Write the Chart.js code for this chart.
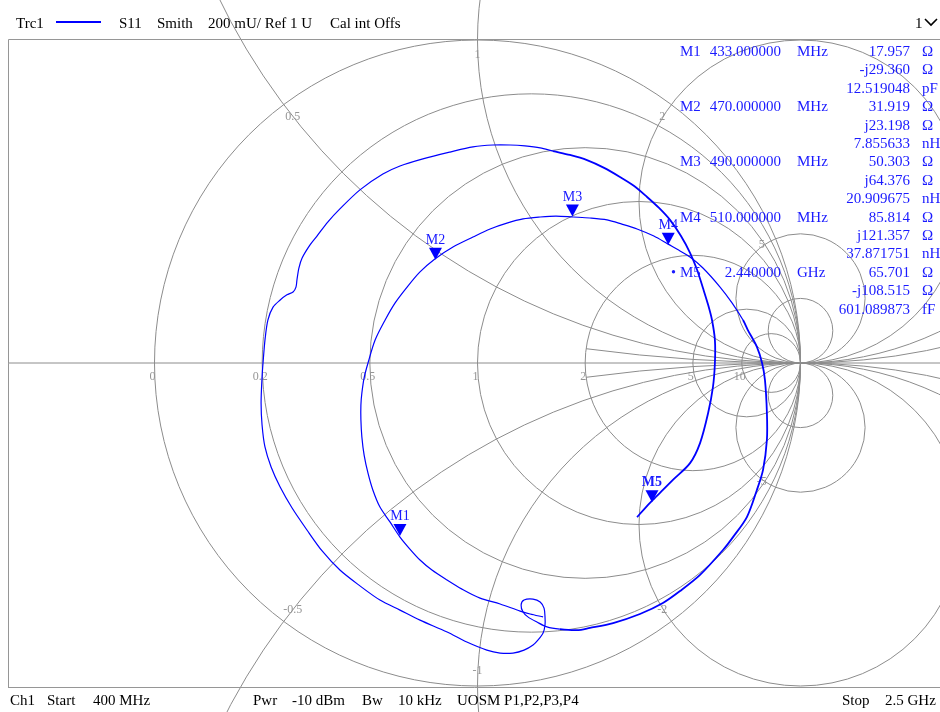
<!DOCTYPE html>
<html>
<head>
<meta charset="utf-8">
<script src="https://cdn.jsdelivr.net/npm/chart.js@4/dist/chart.umd.min.js"></script>
<style>
  html, body { margin: 0; padding: 0; background: #ffffff; }
  canvas { display: block; }
</style>
</head>
<body>
<canvas id="smith" width="940" height="712"></canvas>
<script>
// S11 sweep 400 MHz .. 2.5 GHz, reflection coefficient (real / imaginary part)
const traceRe = [
  0.203, 0.163, 0.132, 0.070, 0.008, -0.048, -0.094, -0.141, -0.178, -0.212,
  -0.240, -0.271, -0.302, -0.324, -0.339, -0.351, -0.358, -0.361, -0.361, -0.358,
  -0.351, -0.339, -0.317, -0.286, -0.255, -0.218, -0.178, -0.132, -0.076, -0.014,
  0.039, 0.091, 0.141, 0.194, 0.243, 0.296, 0.348, 0.401, 0.447, 0.494,
  0.546, 0.590, 0.627, 0.658, 0.698, 0.751, 0.788, 0.822, 0.837, 0.865,
  0.881, 0.890, 0.896, 0.896, 0.884, 0.865, 0.834, 0.791, 0.760, 0.689,
  0.627, 0.574, 0.503, 0.420, 0.348, 0.308, 0.255, 0.215, 0.184, 0.156,
  0.141, 0.135, 0.144, 0.172, 0.194, 0.206, 0.209, 0.209, 0.203, 0.187,
  0.172, 0.144, 0.110, 0.070, 0.029, -0.033, -0.094, -0.178, -0.240, -0.302,
  -0.364, -0.426, -0.481, -0.528, -0.574, -0.611, -0.639, -0.658, -0.667, -0.670,
  -0.667, -0.664, -0.658, -0.649, -0.633, -0.611, -0.590, -0.571, -0.562, -0.559,
  -0.553, -0.543, -0.519, -0.497, -0.463, -0.426, -0.364, -0.293, -0.240, -0.169,
  -0.085, -0.014, 0.048, 0.101, 0.147, 0.194, 0.234, 0.286, 0.339, 0.392,
  0.441, 0.485, 0.525, 0.562, 0.596, 0.630, 0.658, 0.680, 0.698, 0.714,
  0.726, 0.735, 0.735, 0.729, 0.714, 0.689, 0.658, 0.605, 0.574, 0.543,
  0.519, 0.494
];
const traceIm = [
  -0.786, -0.777, -0.768, -0.746, -0.728, -0.700, -0.672, -0.641, -0.610, -0.573,
  -0.539, -0.492, -0.446, -0.393, -0.341, -0.285, -0.229, -0.176, -0.130, -0.093,
  -0.046, 0.000, 0.071, 0.133, 0.186, 0.235, 0.282, 0.322, 0.359, 0.390,
  0.415, 0.433, 0.446, 0.452, 0.455, 0.452, 0.449, 0.443, 0.430, 0.415,
  0.393, 0.368, 0.347, 0.328, 0.294, 0.235, 0.186, 0.133, 0.102, 0.050,
  0.000, -0.053, -0.155, -0.238, -0.331, -0.393, -0.477, -0.539, -0.579, -0.656,
  -0.706, -0.743, -0.777, -0.805, -0.820, -0.827, -0.824, -0.817, -0.802, -0.786,
  -0.771, -0.749, -0.734, -0.731, -0.740, -0.759, -0.786, -0.811, -0.836, -0.858,
  -0.873, -0.889, -0.898, -0.898, -0.889, -0.864, -0.833, -0.796, -0.765, -0.734,
  -0.690, -0.641, -0.582, -0.517, -0.449, -0.384, -0.322, -0.260, -0.192, -0.124,
  -0.043, 0.000, 0.071, 0.133, 0.173, 0.195, 0.211, 0.220, 0.235, 0.257,
  0.294, 0.325, 0.365, 0.393, 0.437, 0.477, 0.536, 0.585, 0.610, 0.632,
  0.653, 0.669, 0.675, 0.675, 0.672, 0.666, 0.656, 0.644, 0.628, 0.604,
  0.576, 0.548, 0.514, 0.480, 0.443, 0.393, 0.341, 0.288, 0.232, 0.180,
  0.133, 0.071, 0.000, -0.074, -0.155, -0.248, -0.310, -0.362, -0.393, -0.424,
  -0.449, -0.477
];
// sample ranges where the trace is densely sampled (drawn heavier)
const denseRanges = [[47, 66], [126, 151]];

// Marker readout (impedance in ohms)
const markerNames = ['M1', 'M2', 'M3', 'M4', 'M5'];
const markerFreqs = ['433.000000', '470.000000', '490.000000', '510.000000', '2.440000'];
const markerFreqUnits = ['MHz', 'MHz', 'MHz', 'MHz', 'GHz'];
const markerR = [17.957, 31.919, 50.303, 85.814, 65.701];
const markerX = [-29.360, 23.198, 64.376, 121.357, -108.515];
const markerEquiv = ['12.519048', '7.855633', '20.909675', '37.871751', '601.089873'];
const markerEquivUnits = ['pF', 'nH', 'nH', 'nH', 'fF'];
const activeMarker = 'M5';
const Z0 = 50;

// Smith grid values (normalised impedance)
const resistanceGrid = [0, 0.2, 0.5, 1, 2, 5, 10];
const resistanceLabels = ['0', '0.2', '0.5', '1', '2', '5', '10'];
const reactanceGrid = [0.5, 1, 2, 5, 10];
const reactanceLabels = [0.5, 1, 2, 5];
const minorReactance = [0.2];      // short arcs, drawn from r = 2 to the open-circuit point
const minorStartR = 2;

// Header / footer texts
const headerTexts = ['Trc1', 'S11', 'Smith', '200 mU/ Ref 1 U', 'Cal int Offs'];
const footerTexts = ['Ch1', 'Start', '400 MHz', 'Pwr', '-10 dBm', 'Bw', '10 kHz', 'UOSM P1,P2,P3,P4', 'Stop', '2.5 GHz'];

// ---- layout ----
const W = 940, H = 712;
const CX = 477.5, CY = 363, UNIT = 323;   // chart centre and pixels per unit reflection
const GRID = 'rgb(140,140,140)';
const BLUE = '#0000ff';
const TXTBLUE = '#1a1aff';
const SERIF = '"Liberation Serif", "Times New Roman", serif';

const traceData = traceRe.map((re, i) => ({ x: re, y: traceIm[i] }));
const isDense = i => denseRanges.some(([a, b]) => i >= a && i < b);

function gammaOf(r, x) {
  const zr = r / Z0, zx = x / Z0;
  const nr = zr - 1, ni = zx, dr = zr + 1, di = zx;
  const d = dr * dr + di * di;
  return { x: (nr * dr + ni * di) / d, y: (ni * dr - nr * di) / d };
}
const markerGamma = markerR.map((r, i) => gammaOf(r, markerX[i]));

const smithGrid = {
  id: 'smithGrid',
  beforeDatasetsDraw(chart) {
    const { ctx } = chart;
    const sx = chart.scales.x, sy = chart.scales.y;
    const px = v => sx.getPixelForValue(v);
    const py = v => sy.getPixelForValue(v);
    const k = px(1) - px(0);
    ctx.save();
    ctx.strokeStyle = GRID;
    ctx.lineWidth = 1;
    // constant resistance circles
    resistanceGrid.forEach(r => {
      ctx.beginPath();
      ctx.arc(px(r / (1 + r)), py(0), k / (1 + r), 0, Math.PI * 2);
      ctx.stroke();
    });
    // constant reactance circles
    reactanceGrid.forEach(x => {
      [x, -x].forEach(v => {
        ctx.beginPath();
        ctx.arc(px(1), py(1 / v), k / Math.abs(v), 0, Math.PI * 2);
        ctx.stroke();
      });
    });
    // short reactance arcs near the open-circuit point
    minorReactance.forEach(x => {
      [x, -x].forEach(v => {
        const ccx = px(1), ccy = py(1 / v);
        const g = gammaOf(minorStartR * Z0, v * Z0);
        const a1 = Math.atan2(py(g.y) - ccy, px(g.x) - ccx);
        const a2 = Math.atan2(py(0) - ccy, px(1) - ccx);
        ctx.beginPath();
        ctx.arc(ccx, ccy, k / Math.abs(v), Math.min(a1, a2), Math.max(a1, a2));
        ctx.stroke();
      });
    });
    // real axis
    ctx.beginPath();
    ctx.moveTo(8, py(0));
    ctx.lineTo(W, py(0));
    ctx.stroke();

    // labels
    ctx.fillStyle = 'rgb(150,150,150)';
    ctx.font = '12px ' + SERIF;
    ctx.textAlign = 'center';
    ctx.textBaseline = 'middle';
    resistanceGrid.forEach((r, i) => {
      const gx = (r - 1) / (r + 1);
      ctx.fillText(resistanceLabels[i], px(gx) - 2, py(0) + 14);
    });
    reactanceLabels.forEach(x => {
      [x, -x].forEach(v => {
        const g = gammaOf(0, v * Z0);
        const gx = px(g.x), gy = py(g.y);
        const cx0 = px(0), cy0 = py(0);
        const len = Math.hypot(gx - cx0, gy - cy0);
        const lx = gx + (cx0 - gx) / len * 15;
        const ly = gy + (cy0 - gy) / len * 15;
        ctx.fillText(String(v), lx, ly);
      });
    });
    ctx.restore();
  }
};

const overlay = {
  id: 'overlay',
  afterDraw(chart) {
    const { ctx } = chart;
    const sx = chart.scales.x, sy = chart.scales.y;
    ctx.save();
    // frame
    ctx.strokeStyle = 'rgb(150,150,150)';
    ctx.lineWidth = 1;
    ctx.beginPath();
    ctx.moveTo(8.5, 688); ctx.lineTo(8.5, 39.5); ctx.lineTo(W, 39.5);
    ctx.moveTo(8.5, 687.5); ctx.lineTo(W, 687.5);
    ctx.stroke();

    // markers on the trace
    markerGamma.forEach((g, i) => {
      const x = sx.getPixelForValue(g.x), y = sy.getPixelForValue(g.y);
      ctx.fillStyle = BLUE;
      ctx.beginPath();
      ctx.moveTo(x, y);
      ctx.lineTo(x - 6.5, y - 12);
      ctx.lineTo(x + 6.5, y - 12);
      ctx.closePath();
      ctx.fill();
      ctx.fillStyle = TXTBLUE;
      ctx.font = (markerNames[i] === activeMarker ? 'bold ' : '') + '14px ' + SERIF;
      ctx.textAlign = 'center';
      ctx.textBaseline = 'alphabetic';
      ctx.fillText(markerNames[i], x, y - 16);
    });

    // header
    ctx.fillStyle = '#000';
    ctx.font = '15px ' + SERIF;
    ctx.textBaseline = 'alphabetic';
    ctx.textAlign = 'left';
    const hx = [16, 119, 157, 208, 330];
    headerTexts.forEach((t, i) => ctx.fillText(t, hx[i], 28));
    ctx.strokeStyle = BLUE;
    ctx.lineWidth = 2;
    ctx.beginPath(); ctx.moveTo(56, 22); ctx.lineTo(101, 22); ctx.stroke();
    ctx.fillText('1', 915, 28);
    ctx.strokeStyle = '#000';
    ctx.lineWidth = 1.6;
    ctx.beginPath(); ctx.moveTo(925, 19); ctx.lineTo(931, 25); ctx.lineTo(937, 19); ctx.stroke();

    // footer
    const fx = [10, 47, 93, 253, 292, 362, 398, 457, 842, 885];
    footerTexts.forEach((t, i) => ctx.fillText(t, fx[i], 705));

    // marker table
    ctx.fillStyle = TXTBLUE;
    ctx.font = '15px ' + SERIF;
    const rowH = 18.4, base = 56;
    markerNames.forEach((m, i) => {
      const y0 = base + i * 3 * rowH;
      ctx.textAlign = 'left';
      ctx.fillText(m, 680, y0);
      if (m === activeMarker) {
        ctx.beginPath(); ctx.arc(673.5, y0 - 5, 1.7, 0, Math.PI * 2); ctx.fill();
      }
      ctx.textAlign = 'right';
      ctx.fillText(markerFreqs[i], 781, y0);
      const xv = markerX[i];
      const react = (xv < 0 ? '-j' : 'j') + Math.abs(xv).toFixed(3);
      ctx.fillText(markerR[i].toFixed(3), 910, y0);
      ctx.fillText(react, 910, y0 + rowH);
      ctx.fillText(markerEquiv[i], 910, y0 + 2 * rowH);
      ctx.textAlign = 'left';
      ctx.fillText(markerFreqUnits[i], 797, y0);
      ctx.fillText('\u03A9', 922, y0);
      ctx.fillText('\u03A9', 922, y0 + rowH);
      ctx.fillText(markerEquivUnits[i], 922, y0 + 2 * rowH);
    });
    ctx.restore();
  }
};

new Chart(document.getElementById('smith'), {
  type: 'scatter',
  data: {
    datasets: [{
      label: 'Trc1 S11',
      data: traceData,
      showLine: true,
      borderColor: BLUE,
      borderWidth: 1.2,
      pointRadius: 0,
      tension: 0.3,
      fill: false,
      segment: {
        borderWidth: ctx => (isDense(ctx.p0DataIndex) ? 1.8 : 1.2)
      }
    }]
  },
  options: {
    responsive: false,
    animation: false,
    events: [],
    layout: { padding: 0 },
    plugins: { legend: { display: false }, tooltip: { enabled: false } },
    scales: {
      x: { type: 'linear', display: false, min: -CX / UNIT, max: (W - CX) / UNIT },
      y: { type: 'linear', display: false, min: -(H - CY) / UNIT, max: CY / UNIT }
    }
  },
  plugins: [smithGrid, overlay]
});
</script>
</body>
</html>
